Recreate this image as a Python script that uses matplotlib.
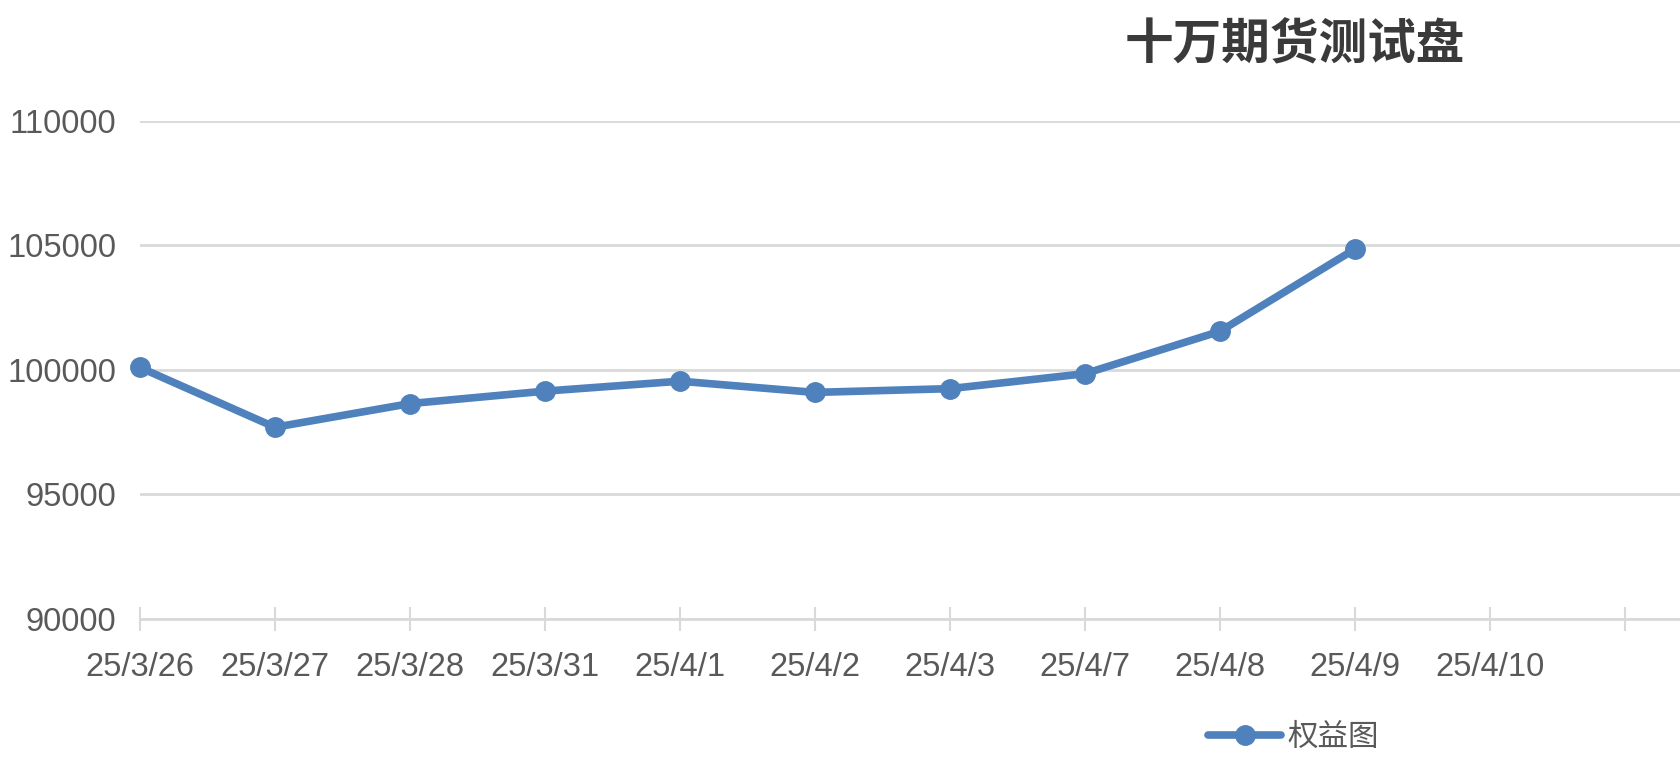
import matplotlib
matplotlib.use("Agg")
import matplotlib.pyplot as plt

# 数据
fechas = ["25/3/26", "25/3/27", "25/3/28", "25/3/31", "25/4/1", "25/4/2",
          "25/4/3", "25/4/7", "25/4/8", "25/4/9", "25/4/10"]
quanyi = [100100, 97700, 98650, 99150, 99550, 99100, 99250, 99850, 101550, 104850]
yticks = [90000, 95000, 100000, 105000, 110000]

azul = "#4F81BD"
gris = "#595959"

plt.rcParams['font.family'] = ['Liberation Sans', 'Noto Sans CJK SC', 'DejaVu Sans']

fig = plt.figure(figsize=(16.8, 7.62), dpi=100)
ax = fig.add_axes([0.0833, 0.1877, 0.9167, 0.6535])

x = list(range(len(quanyi)))
ax.plot(x, quanyi, color=azul, lw=5.5, marker='o', markersize=14,
        solid_capstyle='round', label="权益图", zorder=3, clip_on=False)

ax.set_ylim(90000, 110000)
ax.set_yticks(yticks)
ax.set_yticklabels([str(v) for v in yticks])
ax.set_xlim(0, 11.41)
ax.set_xticks(range(len(fechas) + 1))
ax.set_xticklabels(fechas + [""])

ax.grid(axis='y', color='#D9D9D9', lw=2)
ax.set_axisbelow(True)
for s in ['left', 'right', 'top']:
    ax.spines[s].set_visible(False)
ax.spines['bottom'].set_color('#D9D9D9')
ax.spines['bottom'].set_linewidth(2)

ax.tick_params(axis='y', length=0, pad=17, labelsize=23.5, labelcolor=gris)
ax.tick_params(axis='x', direction='inout', length=17, width=1.5, color='#D9D9D9',
               pad=15, labelsize=23.5, labelcolor=gris)

fig.text(0.771, 0.941, "十万期货测试盘", ha='center', va='center', fontsize=35,
         fontweight='bold', color='#3A3A3A', family=['Noto Sans CJK SC'])

leg = ax.legend(loc='center', bbox_to_anchor=(0.77, 0.033), bbox_transform=fig.transFigure,
                frameon=False, handlelength=2.4, handletextpad=0.2,
                prop={'family': 'Noto Sans CJK SC', 'size': 22})
for t in leg.get_texts():
    t.set_color(gris)

fig.savefig("out.png", dpi=100)
